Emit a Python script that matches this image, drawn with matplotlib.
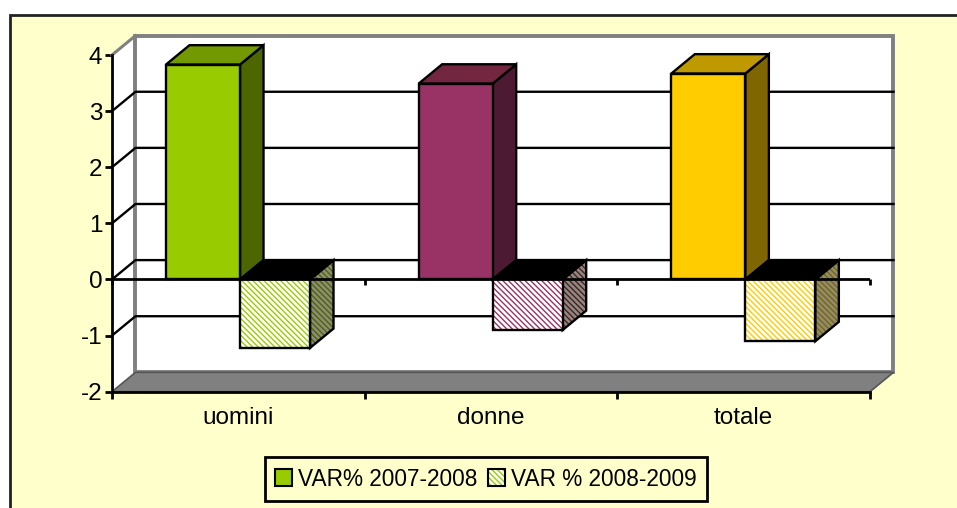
import matplotlib
matplotlib.use('Agg')
import matplotlib.pyplot as plt
from matplotlib.legend_handler import HandlerTuple
from matplotlib.patches import Patch, Polygon, Rectangle

categories = ['uomini', 'donne', 'totale']
series_names = ['VAR% 2007-2008', 'VAR % 2008-2009']
var_2007_2008 = [3.83, 3.49, 3.67]
var_2008_2009 = [-1.22, -0.9, -1.1]
y_ticks = [-2, -1, 0, 1, 2, 3, 4]

front_colors = ['#99CC00', '#993366', '#FFCC00']
top_colors = ['#739900', '#732640', '#BF9900']
side_colors = ['#4D6600', '#4D1A33', '#806600']

W, H = 957, 508
plt.rcParams['font.family'] = ['Liberation Sans', 'DejaVu Sans']
plt.rcParams['hatch.linewidth'] = 1.0
plt.rcParams['axes.unicode_minus'] = False

fig = plt.figure(figsize=(W / 100, H / 100), dpi=100, facecolor='white')
fig.add_artist(Rectangle((10 / W, -0.1), 1.1, 1.1 - 15.5 / H, transform=fig.transFigure,
                         facecolor='#FFFFCC', edgecolor='#222222', linewidth=2, zorder=-1))

ax = fig.add_axes([112 / W, (H - 391.7) / H, 758 / W, 336.7 / H])
ax.patch.set_visible(False)
ax.set_xlim(0, 3)
ax.set_ylim(-2, 4)

# depth of the fake 3D box, in data units
dx = 0.093
dy = 0.345
bar_off = 0.2137
w1 = 0.293
w2 = 0.277


def face(points, **kw):
    ax.add_patch(Polygon(points, closed=True, clip_on=False, **kw))


# walls and floor
face([(0, -2), (dx, -2 + dy), (dx, 4 + dy), (0, 4)], facecolor='white', edgecolor='none', zorder=1)
face([(dx, -2 + dy), (3 + dx, -2 + dy), (3 + dx, 4 + dy), (dx, 4 + dy)],
     facecolor='white', edgecolor='#808080', linewidth=2.8, zorder=1)
ax.plot([0, dx], [4, 4 + dy], color='#808080', lw=2.2, clip_on=False, zorder=2)
face([(0, -2), (3, -2), (3 + dx, -2 + dy), (dx, -2 + dy)],
     facecolor='#808080', edgecolor='#555555', linewidth=1.2, zorder=2)

# gridlines on the back and side walls
for v in y_ticks[1:-1]:
    ax.plot([0, dx, 3 + dx], [v, v + dy, v + dy], color='black', lw=1.7, clip_on=False, zorder=2)

for i in range(len(categories)):
    x1 = i + bar_off
    v1 = var_2007_2008[i]
    x2 = x1 + w1
    v2 = var_2008_2009[i]
    outline = dict(edgecolor='black', linewidth=1.7, joinstyle='miter')

    # first series
    face([(x2, 0), (x2 + dx, dy), (x2 + dx, v1 + dy), (x2, v1)],
         facecolor=side_colors[i], zorder=3, **outline)
    face([(x1, v1), (x2, v1), (x2 + dx, v1 + dy), (x1 + dx, v1 + dy)],
         facecolor=top_colors[i], zorder=3, **outline)
    ax.bar(x1, v1, w1, align='edge', color=front_colors[i], zorder=3, clip_on=False, **outline)

    # second series, hatched
    x3 = x2 + w2
    face([(x3, 0), (x3 + dx, dy), (x3 + dx, v2 + dy), (x3, v2)],
         facecolor='#8C8C78', edgecolor=side_colors[i], hatch='\\\\\\\\\\\\', linewidth=0, zorder=4)
    face([(x3, 0), (x3 + dx, dy), (x3 + dx, v2 + dy), (x3, v2)], fill=False, zorder=4, **outline)
    face([(x2, 0), (x3, 0), (x3 + dx, dy), (x2 + dx, dy)], facecolor='black', zorder=4, **outline)
    ax.bar(x2, v2, w2, align='edge', facecolor='white', edgecolor=front_colors[i],
           hatch='\\\\\\\\\\\\', linewidth=0, zorder=4, clip_on=False)
    ax.bar(x2, v2, w2, align='edge', fill=False, zorder=4, clip_on=False, **outline)

# zero line with its own small ticks
ax.axhline(0, color='black', lw=2, zorder=5)
ax.vlines(range(len(categories) + 1), -0.1, 0, color='black', lw=2, zorder=5, clip_on=False)

for side in ['top', 'right']:
    ax.spines[side].set_visible(False)
for side in ['left', 'bottom']:
    ax.spines[side].set_linewidth(2)
    ax.spines[side].set_zorder(6)

ax.set_yticks(y_ticks)
ax.set_xticks(range(len(categories) + 1))
ax.set_xticklabels([])
ax.set_xticks([i + 0.5 for i in range(len(categories))], minor=True)
ax.set_xticklabels(categories, minor=True)
ax.tick_params(axis='both', which='major', length=5, width=2, labelsize=17.5, pad=2)
ax.tick_params(axis='x', which='minor', length=0, labelsize=17.5, pad=11)

handles = [
    Patch(facecolor=front_colors[0], edgecolor='black', linewidth=1.5),
    (Patch(facecolor='white', edgecolor='#99CC00', hatch='\\\\\\\\\\\\', linewidth=0),
     Patch(fill=False, edgecolor='black', linewidth=1.5)),
]
leg = fig.legend(handles, series_names, loc='center', bbox_to_anchor=(486 / W, (H - 479) / H),
                 ncol=2, fontsize=16.3, frameon=True, fancybox=False, facecolor='#FFFFCC',
                 edgecolor='black', framealpha=1, handlelength=0.75, handleheight=0.75,
                 handletextpad=0.25, columnspacing=0.5, borderpad=0.45, borderaxespad=0,
                 handler_map={tuple: HandlerTuple(ndivide=1, pad=0)})
leg.get_frame().set_linewidth(2)

plt.savefig('out.png', dpi=100)
plt.close()
